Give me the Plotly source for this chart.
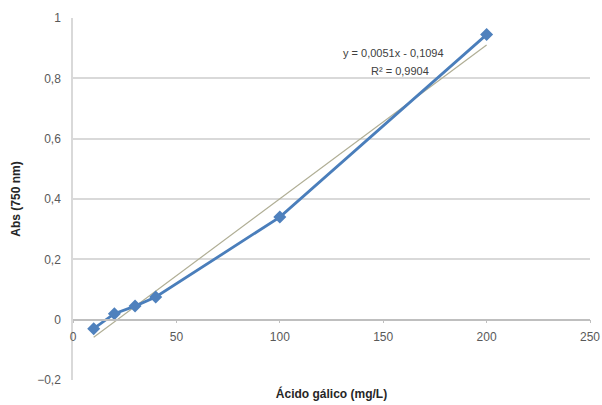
import plotly.graph_objects as go
import numpy as np

# Data
acido_galico = [10, 20, 30, 40, 100, 200]
absorbancia = [-0.03, 0.02, 0.045, 0.075, 0.34, 0.945]
slope = 0.0051
intercept = -0.1094
r2 = 0.9904
x_ticks = [0, 50, 100, 150, 200, 250]
y_ticks = [-0.2, 0, 0.2, 0.4, 0.6, 0.8, 1]

trend_x = np.array([min(acido_galico), max(acido_galico)])
trend_y = slope * trend_x + intercept

FONT = "Liberation Sans Narrow, Liberation Sans, Arial"

fig = go.Figure()
fig.add_trace(go.Scatter(
    x=trend_x, y=trend_y, mode="lines",
    line=dict(color="#b0ae95", width=1.2),
    showlegend=False, hoverinfo="skip"))
fig.add_trace(go.Scatter(
    x=acido_galico, y=absorbancia, mode="lines+markers",
    line=dict(color="#4a7ebb", width=2.8),
    marker=dict(symbol="diamond", size=10, color="#4f81bd"),
    showlegend=False))
# invisible trace on the crossing x-axis
fig.add_trace(go.Scatter(x=[0, 250], y=[0, 0], xaxis="x2", mode="markers",
                         marker=dict(opacity=0), showlegend=False, hoverinfo="skip"))

fig.update_layout(
    width=602, height=405,
    margin=dict(l=73, r=12, t=18, b=25, autoexpand=False),
    paper_bgcolor="white", plot_bgcolor="white",
    separators=", ",
    font=dict(family=FONT, size=12, color="#595959"),
    xaxis=dict(range=[0, 250], showticklabels=False, showgrid=False,
               zeroline=False, showline=False, ticks="", automargin=False,
               title=dict(text="<b>Ácido gálico (mg/L)</b>",
                          font=dict(size=12, color="#262626"), standoff=9)),
    xaxis2=dict(range=[0, 250], overlaying="x", anchor="free", position=0.2/1.2,
                side="bottom", tickvals=x_ticks, showgrid=False, zeroline=False,
                showline=True, linecolor="#bfbfbf", linewidth=1.5,
                ticks="outside", ticklen=3, tickcolor="#bfbfbf",
                ticklabelstandoff=3, automargin=False,
                tickfont=dict(size=12, color="#595959")),
    yaxis=dict(range=[-0.2, 1], tickvals=y_ticks, showgrid=True,
               gridcolor="#d9d9d9", gridwidth=1.5, zeroline=False,
               showline=True, linecolor="#d9d9d9", linewidth=1.5,
               ticklabelstandoff=8, automargin=False,
               title=dict(text="<b>Abs (750 nm)</b>",
                          font=dict(size=12, color="#262626"), standoff=14)),
    annotations=[
        dict(xref="paper", yref="paper", x=0.619, y=0.925, showarrow=False,
             text=f"y = {str(slope).replace('.', ',')}x - {str(-intercept).replace('.', ',')}",
             font=dict(size=11, color="#404040")),
        dict(xref="paper", yref="paper", x=0.632, y=0.876, showarrow=False,
             text=f"R² = {str(r2).replace('.', ',')}",
             font=dict(size=11, color="#404040")),
    ],
)

fig.write_html("out.html", config={"displayModeBar": False},
               post_script="document.body.style.margin='0';document.body.style.overflow='hidden';")
